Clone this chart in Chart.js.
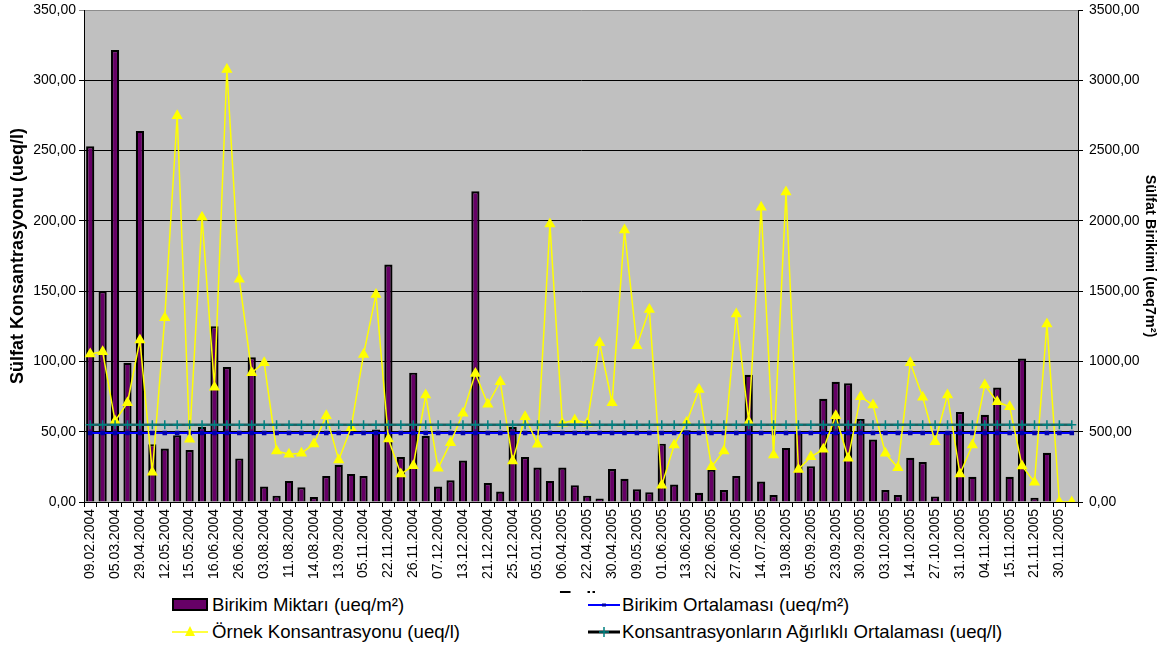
<!DOCTYPE html>
<html>
<head>
<meta charset="utf-8">
<script src="https://cdn.jsdelivr.net/npm/chart.js@4.4.1/dist/chart.umd.min.js"></script>
<style>
  html, body { margin: 0; padding: 0; background: #fff; }
  #wrap { position: relative; width: 1167px; height: 649px; }
  #legend {
    position: absolute; left: 0; top: 593px; width: 1167px; height: 56px;
    background: #fff; color: #000;
    font-family: "Liberation Sans", Arial, sans-serif; font-size: 18.6px;
  }
  .txt { position: absolute; white-space: nowrap; line-height: 20px; }
  .sym { position: absolute; }
</style>
</head>
<body>
<div id="wrap">
  <canvas id="c" width="1167" height="649"></canvas>
  <div id="legend">
    <div class="sym" style="left:172px;top:5px;width:36px;height:13px;background:#660066;border:2px solid #000;box-sizing:border-box;"></div>
    <span class="txt" style="left:212px;top:2px;">Birikim Miktarı (ueq/m²)</span>

    <svg class="sym" style="left:588px;top:5px;" width="32" height="14">
      <line x1="0" y1="7" x2="32" y2="7" stroke="#0000ff" stroke-width="2"/>
      <rect x="14" y="5.5" width="4" height="3" fill="#0000aa"/>
    </svg>
    <span class="txt" style="left:622px;top:2px;">Birikim Ortalaması (ueq/m²)</span>

    <svg class="sym" style="left:172px;top:32px;" width="36" height="14">
      <line x1="0" y1="7" x2="36" y2="7" stroke="#ffff00" stroke-width="1.5"/>
      <polygon points="18,1 23,11 13,11" fill="#ffff00"/>
    </svg>
    <span class="txt" style="left:212px;top:29px;">Örnek Konsantrasyonu (ueq/l)</span>

    <svg class="sym" style="left:588px;top:32px;" width="32" height="14">
      <line x1="0" y1="7" x2="32" y2="7" stroke="#000" stroke-width="3"/>
      <line x1="16" y1="2" x2="16" y2="12" stroke="#008080" stroke-width="1.5"/>
      <line x1="11" y1="7" x2="21" y2="7" stroke="#008080" stroke-width="1.5"/>
    </svg>
    <span class="txt" style="left:622px;top:29px;">Konsantrasyonların Ağırlıklı Ortalaması (ueq/l)</span>
  </div>
</div>
<script>
// tarih etiketleri (her ikinci örnek etiketli)
const tarihler = [
  "09.02.2004", "05.03.2004", "29.04.2004", "12.05.2004", "15.05.2004",
  "16.06.2004", "26.06.2004", "03.08.2004", "11.08.2004", "14.08.2004",
  "13.09.2004", "05.11.2004", "22.11.2004", "26.11.2004", "07.12.2004",
  "13.12.2004", "21.12.2004", "25.12.2004", "05.01.2005", "06.04.2005",
  "22.04.2005", "30.04.2005", "09.05.2005", "01.06.2005", "13.06.2005",
  "22.06.2005", "27.06.2005", "14.07.2005", "19.08.2005", "05.09.2005",
  "23.09.2005", "30.09.2005", "03.10.2005", "14.10.2005", "27.10.2005",
  "31.10.2005", "04.11.2005", "15.11.2005", "21.11.2005", "30.11.2005"
];

// Birikim Miktarı (ueq/m²) - sağ eksen
const birikim = [
  2530, 1500, 3215, 990, 2640, 410, 380, 475, 370, 535,
  1250, 960, 310, 1030, 110, 45, 150, 105, 35, 185,
  265, 200, 185, 515, 1690, 320, 920, 470, 110, 155,
  295, 2210, 135, 75, 535, 320, 245, 150, 245, 120,
  45, 25, 235, 165, 90, 70, 415, 125, 510, 65,
  230, 85, 185, 905, 145, 50, 385, 500, 255, 735,
  855, 845, 590, 445, 85, 50, 315, 285, 40, 500,
  640, 180, 620, 815, 180, 1020, 30, 350, 0, 0
];

// Örnek Konsantrasyonu (ueq/l) - sol eksen
const konsantrasyon = [
  105.3, 106.9, 57.6, 70.6, 115.2, 21.1, 131.1, 274.8, 44.6, 202.5,
  81.6, 307.7, 158.4, 92.0, 99.1, 36.3, 33.9, 34.6, 41.3, 61.4,
  29.9, 52.9, 105.0, 147.7, 44.8, 19.9, 25.8, 76.1, 24.0, 42.2,
  63.1, 91.5, 69.5, 85.6, 29.2, 60.7, 41.0, 197.7, 56.0, 58.3,
  56.0, 113.3, 70.6, 193.5, 111.2, 137.0, 11.9, 40.5, 56.7, 80.1,
  25.1, 36.3, 133.7, 57.1, 209.6, 33.4, 220.5, 23.2, 32.2, 37.5,
  61.4, 31.1, 74.9, 69.0, 34.6, 24.4, 99.1, 74.5, 42.9, 76.1,
  19.9, 40.5, 83.2, 71.3, 67.8, 25.6, 14.0, 126.6, 0, 0
];

const birikimOrtalamasi = 491;      // ueq/m²
const agirlikliOrtalama = 55.0;     // ueq/l

// 80 ornek; etiket yalnizca cift sirada
const kategoriler = [];
tarihler.forEach(t => { kategoriler.push(t); kategoriler.push(""); });

const FONT = "'Liberation Sans', Arial, sans-serif";
const NARROW = "'Liberation Sans Narrow', 'Arial Narrow', sans-serif";
const virgul = v => v.toFixed(2).replace(".", ",");

const plotBg = {
  id: "plotBg",
  beforeDraw(chart) {
    const { ctx, chartArea: a } = chart;
    ctx.save();
    ctx.fillStyle = "#c0c0c0";
    ctx.fillRect(a.left, a.top, a.right - a.left, a.bottom - a.top);
    ctx.restore();
  }
};

// dikey eksenlerde etiket tasmasi icin ekstra bosluk birakma
function dikeyGenislik(w) {
  return s => {
    s.width = w;
    s.paddingTop = 0;
    s.paddingBottom = 0;
  };
}

Chart.defaults.color = "#000";

new Chart(document.getElementById("c"), {
  type: "bar",
  data: {
    labels: kategoriler,
    datasets: [
      {
        type: "line",
        label: "Konsantrasyonların Ağırlıklı Ortalaması (ueq/l)",
        data: kategoriler.map(() => agirlikliOrtalama),
        yAxisID: "y",
        borderColor: "#1e6262",
        borderWidth: 2.5,
        pointStyle: "cross",
        pointRadius: 4.5,
        pointBorderColor: "#008080",
        pointBorderWidth: 1.5,
        order: 1
      },
      {
        type: "line",
        label: "Örnek Konsantrasyonu (ueq/l)",
        data: konsantrasyon,
        yAxisID: "y",
        borderColor: "#ffff00",
        backgroundColor: "#ffff00",
        borderWidth: 1.5,
        pointStyle: "triangle",
        pointRadius: 5,
        pointBorderColor: "#ffff00",
        pointBackgroundColor: "#ffff00",
        order: 2
      },
      {
        type: "line",
        label: "Birikim Ortalaması (ueq/m²)",
        data: kategoriler.map(() => birikimOrtalamasi),
        yAxisID: "y1",
        borderColor: "#0000ff",
        borderWidth: 2,
        pointStyle: "rect",
        pointRadius: 1.8,
        pointBackgroundColor: "#0000aa",
        pointBorderColor: "#0000aa",
        order: 3
      },
      {
        type: "bar",
        label: "Birikim Miktarı (ueq/m²)",
        data: birikim,
        yAxisID: "y1",
        backgroundColor: "#660066",
        borderColor: "#000",
        borderWidth: 2.2,
        barPercentage: 0.66,
        categoryPercentage: 1,
        order: 4
      }
    ]
  },
  options: {
    responsive: false,
    animation: false,
    layout: { padding: { top: 10, bottom: 39, left: 0, right: 0 } },
    plugins: { legend: { display: false }, tooltip: { enabled: false } },
    scales: {
      x: {
        offset: true,
        grid: { offset: true, drawOnChartArea: false, color: "#000", tickLength: 5 },
        border: { color: "#000" },
        ticks: {
          autoSkip: false, maxRotation: 90, minRotation: 90, padding: 2,
          font: { family: NARROW, size: 14 }
        },
        title: {
          display: true, text: "Tarih", padding: { top: 0, bottom: 0 },
          font: { family: FONT, size: 18, weight: "bold" }
        },
        afterFit(s) { s.height = 108; }
      },
      y: {
        position: "left",
        min: 0, max: 350,
        ticks: { stepSize: 50, padding: 3, callback: virgul, font: { family: FONT, size: 14 } },
        grid: {
          tickLength: 5,
          color: c => (c.tick && c.tick.value === 350 ? "#8c8c8c" : "#000")
        },
        border: { color: "#000" },
        title: {
          display: true, text: "Sülfat Konsantrasyonu (ueq/l)", padding: { top: 7, bottom: 0 },
          font: { family: FONT, size: 18, weight: "bold" }
        },
        afterFit: dikeyGenislik(84)
      },
      y1: {
        position: "right",
        min: 0, max: 3500,
        ticks: { stepSize: 500, padding: 6, callback: virgul, font: { family: FONT, size: 14 } },
        grid: { drawOnChartArea: false, color: "#000", tickLength: 5 },
        border: { color: "#000" },
        title: {
          display: true, text: "Sülfat Birikimi (ueq7m²)", padding: { top: 8, bottom: 0 },
          font: { family: FONT, size: 14.5, weight: "bold" }
        },
        afterFit: dikeyGenislik(89)
      }
    }
  },
  plugins: [plotBg]
});
</script>
</body>
</html>
